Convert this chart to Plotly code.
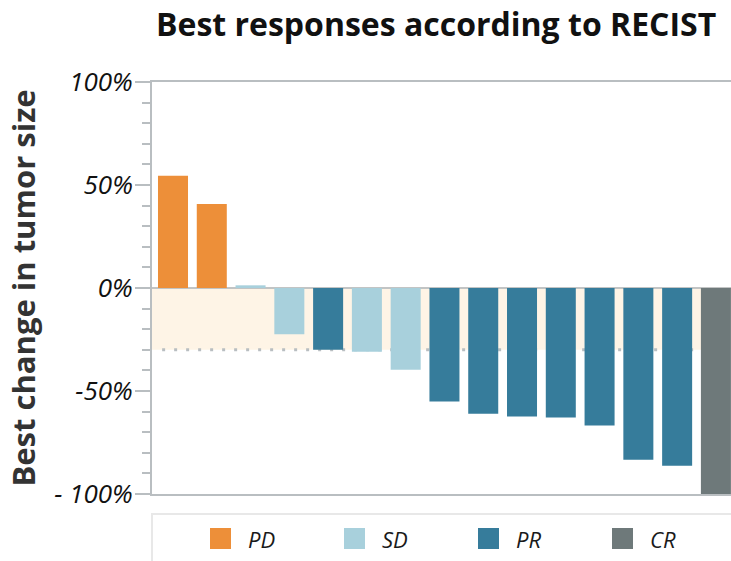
import plotly.graph_objects as go

# Best change in tumor size per patient (waterfall order)
patients = list(range(1, 16))
best_change = [54.5, 40.8, 1.3, -22.4, -30.0, -31.0, -39.7, -55.1,
               -61.0, -62.4, -62.9, -66.8, -83.4, -86.3, -100.0]
response = ["PD", "PD", "SD", "SD", "PR", "SD", "SD", "PR",
            "PR", "PR", "PR", "PR", "PR", "PR", "CR"]

categories = ["PD", "SD", "PR", "CR"]
colors = {"PD": "#ED8F39", "SD": "#A8D0DC", "PR": "#367C9B", "CR": "#6E797A"}

# RECIST thresholds: partial response band between 0 and -30 %
band_top = 0
pr_threshold = -30

y_tickvals = [-100, -50, 0, 50, 100]
y_ticktext = ["- 100%", "-50%", "0%", "50%", "100%"]

W, H = 731, 561
L, R, T, B = 152, 0, 82, 67
plot_w = W - L - R
plot_h = H - T - B


def px_x(px):
    return (px - L) / plot_w


def px_y(py):
    return (H - B - py) / plot_h


axis_grey = "#B9BEC1"
font_family = "Open Sans"

fig = go.Figure()
for cat in categories:
    xs = [p for p, r in zip(patients, response) if r == cat]
    ys = [v for v, r in zip(best_change, response) if r == cat]
    fig.add_trace(go.Bar(
        x=xs, y=ys, name=cat, width=0.774,
        marker=dict(color=colors[cat], line=dict(width=0)),
        showlegend=False,
    ))

shapes = [
    # shaded band 0 to -30 %
    dict(type="rect", xref="paper", yref="y", x0=0, x1=1,
         y0=band_top, y1=pr_threshold, fillcolor="#FEF4E6",
         line=dict(width=0), layer="below"),
    # dotted -30 % threshold line
    dict(type="line", xref="x", yref="y", x0=0.72, x1=15.4,
         y0=pr_threshold, y1=pr_threshold,
         line=dict(color=axis_grey, width=3, dash="3px,9px"), layer="below"),
    # legend frame
    dict(type="rect", xref="paper", yref="paper",
         x0=px_x(152), x1=px_x(745), y0=px_y(514), y1=px_y(575),
         line=dict(color="#E8E8E8", width=2), fillcolor="rgba(0,0,0,0)"),
]

annotations = []
legend_x0 = 210
legend_step = 134
for i, cat in enumerate(categories):
    mx = legend_x0 + i * legend_step
    shapes.append(dict(
        type="rect", xref="paper", yref="paper",
        x0=px_x(mx), x1=px_x(mx + 21), y0=px_y(549), y1=px_y(528),
        fillcolor=colors[cat], line=dict(width=0)))
    annotations.append(dict(
        xref="paper", yref="paper", x=px_x(mx + 36), y=px_y(538.5),
        xanchor="left", yanchor="middle", showarrow=False, text=cat,
        font=dict(family=font_family, size=22, color="#1A1A1A", style="italic")))

fig.update_layout(
    width=W, height=H,
    margin=dict(l=L, r=R, t=T, b=B, pad=0),
    paper_bgcolor="white", plot_bgcolor="white",
    barmode="overlay",
    showlegend=False,
    title=dict(
        text="Best responses according to RECIST",
        xref="container", yref="container", x=156 / W, y=1 - 25 / H,
        xanchor="left", yanchor="middle",
        font=dict(family=font_family, size=32, color="#111111", weight="bold"),
    ),
    shapes=shapes,
    annotations=annotations,
)

fig.update_xaxes(
    range=[0.4585, 15.389], showticklabels=False, ticks="",
    showgrid=False, zeroline=False,
    showline=True, mirror=True, linecolor=axis_grey, linewidth=2,
)

fig.update_yaxes(
    range=[-100, 100], tickvals=y_tickvals, ticktext=y_ticktext,
    ticks="outside", ticklen=15, tickwidth=2, tickcolor=axis_grey,
    minor=dict(dtick=10, ticks="outside", ticklen=8, tickwidth=2, tickcolor=axis_grey),
    tickfont=dict(family=font_family, size=26, color="#111111", style="italic"),
    ticklabelstandoff=-3,
    showgrid=False,
    zeroline=True, zerolinecolor="#C2C4C4", zerolinewidth=2,
    showline=True, linecolor=axis_grey, linewidth=2,
    title=dict(text="Best change in tumor size", standoff=9,
               font=dict(family=font_family, size=31, color="#333333", weight="bold")),
)

fig.write_html("out.html")
